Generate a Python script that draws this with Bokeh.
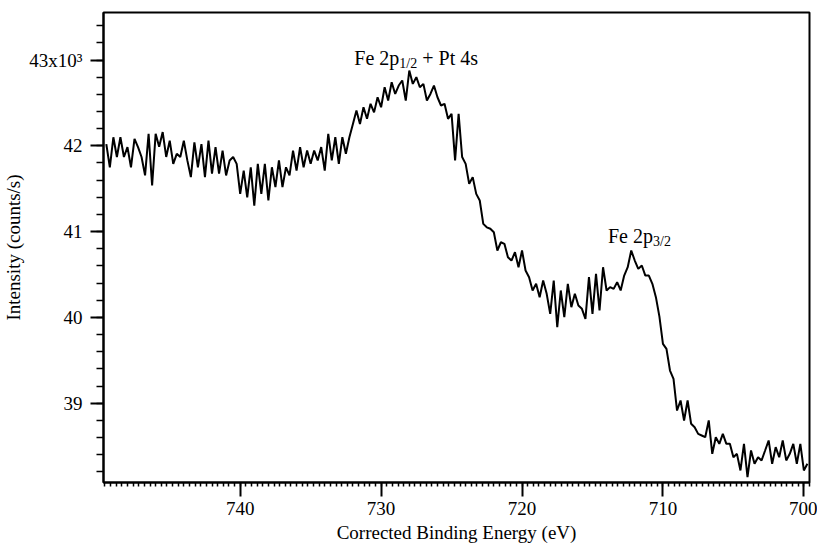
from bokeh.plotting import figure
from bokeh.models import Range1d, FixedTicker, Label, LinearAxis
from bokeh.embed import file_html
from bokeh.resources import INLINE
import numpy as np

# ---- data ----
E_START = 749.5   # eV, first point
E_END = 699.75    # eV, last point
intensity = [
    42020, 41750, 42100, 41870, 42100, 41870, 41985, 41750, 42080, 41985,
    41870, 41655, 42140, 41537, 42140, 41990, 42160, 41870, 42060, 41790,
    41907, 41870, 42060, 41830, 41635, 42040, 41750, 42020, 41635, 42060,
    41675, 41985, 41675, 41945, 41655, 41830, 41870, 41790, 41440, 41712,
    41400, 41750, 41304, 41790, 41440, 41790, 41363, 41750, 41518, 41830,
    41518, 41750, 41655, 41945, 41712, 41985, 41750, 41945, 41790, 41945,
    41830, 41985, 41712, 42140, 41830, 42100, 41790, 42100, 41907, 42100,
    42255, 42411, 42255, 42450, 42315, 42490, 42390, 42566, 42450, 42683,
    42528, 42741, 42605, 42703, 42761, 42528, 42878, 42722, 42800, 42683,
    42722, 42528, 42605, 42703, 42566, 42470, 42490, 42315, 42373, 41830,
    42373, 41870, 41790, 41557, 41635, 41440, 41363, 41090, 41050, 41033,
    40993, 40780, 40876, 40858, 40702, 40663, 40760, 40585, 40780, 40547,
    40469, 40314, 40392, 40236, 40430, 40275, 40042, 40430, 39886, 40314,
    40003, 40392, 40120, 40275, 40139, 40100, 39984, 40469, 40042, 40508,
    40081, 40585, 40314, 40353, 40333, 40411, 40314, 40488, 40585, 40780,
    40663, 40566, 40605, 40488, 40488, 40392, 40236, 40010, 39692, 39634,
    39381, 39284, 38915, 39032, 38799, 39032, 38760, 38720, 38643, 38624,
    38604, 38799, 38410, 38604, 38527, 38643, 38527, 38527, 38371, 38410,
    38216, 38527, 38138, 38449, 38294, 38371, 38333, 38449, 38566, 38294,
    38488, 38371, 38566, 38333, 38410, 38527, 38294, 38527, 38216, 38294,
]
energy = np.linspace(E_START, E_END, len(intensity))

x_major = [700, 710, 720, 730, 740]
x_medium = list(range(700, 750, 2))
y_major = [39000, 40000, 41000, 42000, 43000]
y_labels = ["39", "40", "41", "42", "43x10\u00b3"]

peak1_pos = (731.9, 43023)
peak2_pos = (713.9, 40946)

FONT = "Liberation Serif"
Y_START, Y_END = 38076, 43554

p = figure(width=817, height=552, output_backend="svg", toolbar_location=None,
           x_range=Range1d(749.7, 699.6), y_range=Range1d(Y_START, Y_END),
           min_border_left=102, min_border_right=8, min_border_top=12,
           min_border_bottom=70)
p.background_fill_color = "white"
p.border_fill_color = "white"
p.grid.visible = False
p.outline_line_color = "black"
p.outline_line_width = 2
p.outline_line_alpha = 1.0

p.line(energy, intensity, line_color="black", line_width=2)

# x axis
xa = p.xaxis[0]
xa.ticker = FixedTicker(ticks=x_major,
                        minor_ticks=[round(699.6 + 0.4 * k, 1) for k in range(0, 126)])
xa.axis_label = "Corrected Binding Energy (eV)"
ya = p.yaxis[0]
ya.ticker = FixedTicker(ticks=y_major,
                        minor_ticks=[38200 + 200 * k for k in range(0, 27)])
ya.major_label_overrides = dict(zip(y_major, y_labels))
ya.axis_label = "Intensity (counts/s)"

for ax in (xa, ya):
    ax.axis_line_color = "black"
    ax.axis_line_width = 2
    ax.major_tick_in = 0
    ax.minor_tick_in = 0
    ax.major_tick_line_color = "black"
    ax.minor_tick_line_color = "black"
    ax.major_tick_line_width = 2
    ax.minor_tick_line_width = 1.5
    ax.major_label_text_font = FONT
    ax.major_label_text_font_size = "19px"
    ax.major_label_text_color = "black"
    ax.axis_label_text_font = FONT
    ax.axis_label_text_font_size = "19px"
    ax.axis_label_text_font_style = "normal"
    ax.axis_label_text_color = "black"

xa.major_tick_out = 14
xa.minor_tick_out = 4
xa.major_label_standoff = 5
xa.axis_label_standoff = 4
ya.major_tick_out = 13
ya.minor_tick_out = 7
ya.major_label_standoff = 8
ya.axis_label_standoff = 2

# medium-length ticks every 2 eV (no labels)
xa2 = LinearAxis(ticker=FixedTicker(ticks=x_medium, minor_ticks=[]),
                 fixed_location=Y_START, axis_line_color=None,
                 major_label_text_color=None, major_tick_in=0,
                 major_tick_out=11, major_tick_line_width=2,
                 major_tick_line_color="black", minor_tick_line_color=None)
p.add_layout(xa2, "below")

def add_label(pos, text, size, dx=0, dy=0):
    p.add_layout(Label(x=pos[0], y=pos[1], text=text, x_offset=dx, y_offset=dy,
                       text_font=FONT, text_font_size=size, text_color="black",
                       text_baseline="alphabetic", text_align="left"))

add_label(peak1_pos, "Fe 2p", "20px")
add_label(peak1_pos, "1/2", "14px", dx=45, dy=-5)
add_label(peak1_pos, "+ Pt 4s", "20px", dx=68)
add_label(peak2_pos, "Fe 2p", "20px")
add_label(peak2_pos, "3/2", "14px", dx=45, dy=-5)

open("out.html", "w").write(file_html(p, INLINE))
